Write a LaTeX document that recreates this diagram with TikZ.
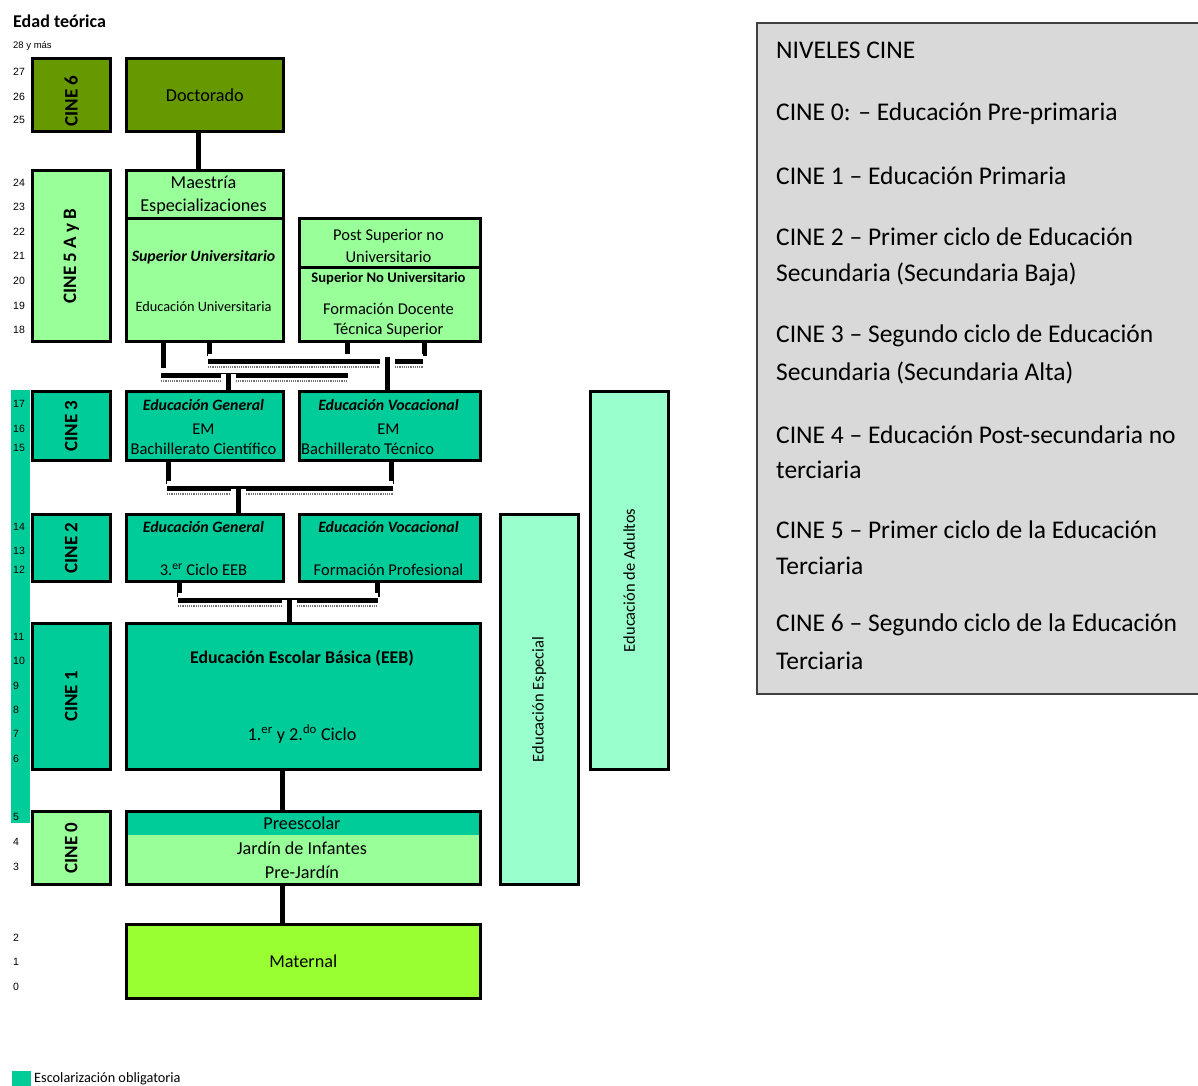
\documentclass[tikz,border=0pt]{standalone}
\usepackage{fontspec}
\setmainfont{Carlito}
\newfontfamily\edadfont{Liberation Sans}
\usetikzlibrary{positioning}
\definecolor{olivo}{HTML}{669900}
\definecolor{verdeclaro}{HTML}{99FF99}
\definecolor{turquesa}{HTML}{00CC99}
\definecolor{menta}{HTML}{99FFCC}
\definecolor{lima}{HTML}{99FF33}
\definecolor{grisclaro}{HTML}{D9D9D9}
\tikzset{
  caja/.style={draw, line width=2.6pt, inner sep=0pt, anchor=north west},
  nivel/.style={rotate=90, font=\bfseries\fontsize{19}{21}\selectfont},
  edad/.style={anchor=west, inner sep=0pt, font=\edadfont\fontsize{10.5}{12}\selectfont},
  txtg/.style={inner sep=0pt, font=\fontsize{18.2}{21}\selectfont},
  txtm/.style={inner sep=0pt, font=\fontsize{16.5}{19}\selectfont},
  txtp/.style={inner sep=0pt, font=\fontsize{14.3}{17}\selectfont},
  txtbi/.style={inner sep=0pt, font=\bfseries\itshape\fontsize{15.8}{18}\selectfont},
  cine/.style={anchor=west, inner sep=0pt, font=\fontsize{25.5}{29}\selectfont},
  conn/.style={line width=5pt, preaction={draw=white, line width=15pt}},
  regla/.style={densely dotted, line width=1.2pt, black!55}
}
\begin{document}
\begin{tikzpicture}[x=1pt,y=-1pt]
    \useasboundingbox (0,0) rectangle (1198,1085);
    %% edad teorica
    \fill[turquesa] (11,390) rectangle (30,823);
    \node[anchor=west, inner sep=0pt, font=\bfseries\fontsize{18}{21}\selectfont] (titulo) at (13,21) {Edad teórica};
    \node[edad, font=\edadfont\fontsize{9.5}{11}\selectfont] (mas) at (13,46) {28 y más};
    \foreach \e/\y in {27/72,26/97,25/120,24/183,23/207,22/232,21/256,20/281,19/306,18/330,
                       17/404,16/429,15/448,14/527,13/551,12/570,11/637,10/661,9/686,8/710,
                       7/734,6/759,5/817,4/842,3/867,2/938,1/962,0/987}
        \node[edad] at (13,\y) {\e};
    %% niveles CINE
    \node[caja, fill=olivo, minimum width=78pt, minimum height=73pt] (c6) at (31,57) {};
    \node[caja, fill=verdeclaro, minimum width=78pt, minimum height=171pt] (c5) at (31,169) {};
    \node[caja, fill=turquesa, minimum width=78pt, minimum height=69pt] (c3) at (31,390) {};
    \node[caja, fill=turquesa, minimum width=78pt, minimum height=67pt] (c2) at (31,513) {};
    \node[caja, fill=turquesa, minimum width=78pt, minimum height=146pt] (c1) at (31,622) {};
    \node[caja, fill=verdeclaro, minimum width=78pt, minimum height=73pt] (c0) at (31,810) {};
    \node[nivel] at ([yshift=-6pt]c6.center) {CINE 6};
    \foreach \n/\t in {c5/CINE 5 A y B,c3/CINE 3,c2/CINE 2,c1/CINE 1,c0/CINE 0}
        \node[nivel] at (\n) {\t};
    %% programas
    \node[caja, fill=olivo, minimum width=157pt, minimum height=73pt, txtg] (doct) at (125,57) {Doctorado};
    \node[caja, fill=verdeclaro, minimum width=157pt, minimum height=48pt] (maes) at (125,169) {};
    \node[txtg] at (203.5,182) {Maestría};
    \node[txtg] at (203.5,207) {Especializaciones};
    \node[caja, fill=verdeclaro, minimum width=157pt, minimum height=123pt] (supu) at (125,217) {};
    \node[txtbi] at (203.5,257) {Superior Universitario};
    \node[txtp] at (203.5,307) {Educación Universitaria};
    \node[caja, fill=verdeclaro, minimum width=181pt, minimum height=49pt] (post) at (298,217) {};
    \node[txtm] at (388.5,236) {Post Superior no};
    \node[txtm] at (388.5,257) {Universitario};
    \node[caja, fill=verdeclaro, minimum width=181pt, minimum height=74pt] (supnu) at (298,266) {};
    \node[inner sep=0pt, font=\bfseries\fontsize{14.6}{17}\selectfont] at (388.5,279) {Superior No Universitario};
    \node[txtm] at (388.5,309) {Formación Docente};
    \node[txtm] at (388.5,330) {Técnica Superior};
    \node[caja, fill=turquesa, minimum width=157pt, minimum height=69pt] (eg3) at (125,390) {};
    \node[txtbi] at (203.5,405) {Educación General};
    \node[txtm] at (203.5,429) {EM};
    \node[txtm] at (203.5,449) {Bachillerato Científico};
    \node[caja, fill=turquesa, minimum width=181pt, minimum height=69pt] (ev3) at (298,390) {};
    \node[txtbi] at (388.5,405) {Educación Vocacional};
    \node[txtm] at (388.5,429) {EM};
    \node[txtm, anchor=west] at (301,449) {Bachillerato Técnico};
    \node[caja, fill=turquesa, minimum width=157pt, minimum height=67pt] (eg2) at (125,513) {};
    \node[txtbi] at (203.5,527) {Educación General};
    \node[txtm] at (203.5,570) {3.\textsuperscript{er} Ciclo EEB};
    \node[caja, fill=turquesa, minimum width=181pt, minimum height=67pt] (ev2) at (298,513) {};
    \node[txtbi] at (388.5,527) {Educación Vocacional};
    \node[txtm] at (388.5,570) {Formación Profesional};
    \node[caja, fill=turquesa, minimum width=354pt, minimum height=146pt] (eeb) at (125,622) {};
    \node[inner sep=0pt, font=\bfseries\fontsize{17.8}{20}\selectfont] at (302,658) {Educación Escolar Básica (EEB)};
    \node[txtg] at (302,734) {1.\textsuperscript{er} y 2.\textsuperscript{do} Ciclo};
    \node[caja, fill=verdeclaro, minimum width=354pt, minimum height=73pt,
          path picture={\fill[turquesa] (path picture bounding box.north west) rectangle ([yshift=-24pt]path picture bounding box.north east);}] (pre) at (125,810) {};
    \node[txtg] at (302,823) {Preescolar};
    \node[txtg] at (302,848) {Jardín de Infantes};
    \node[txtg] at (302,872) {Pre-Jardín};
    \node[caja, fill=lima, minimum width=354pt, minimum height=74pt, txtg] (mat) at (125,923) {Maternal};
    \node[caja, fill=menta, minimum width=78pt, minimum height=370pt] (esp) at (499,513) {};
    \node[txtm, rotate=90] at (esp) {Educación Especial};
    \node[caja, fill=menta, minimum width=78pt, minimum height=378pt] (adul) at (589,390) {};
    \node[txtm, rotate=90] at (adul) {Educación de Adultos};
    %% conexiones
    \draw[conn] ([xshift=-6.5pt]doct.south) -- ([xshift=-6.5pt]maes.north);
    \draw[conn] ([xshift=-41.5pt]supu.south) -- ++(0,27);
    \draw[conn] ([xshift=4.5pt]supu.south) -- ++(0,13);
    \draw[conn] ([xshift=-42.5pt]supnu.south) -- ++(0,13);
    \draw[conn] ([xshift=34.5pt]supnu.south) -- ++(0,13);
    \draw[conn] (208,361) -- (423,361);
    \draw[regla] (208,367) -- (423,367);
    \draw[conn] (161,375) -- (348,375);
    \draw[regla] (161,381) -- (348,381);
    \draw[conn] ([xshift=23.5pt]eg3.north) -- ++(0,-16);
    \draw[conn] ([xshift=-2.5pt]ev3.north) -- ++(0,-33);
    \draw[conn] ([xshift=-36.5pt]eg3.south) -- ++(0,22);
    \draw[conn] ([xshift=1.5pt]ev3.south) -- ++(0,22);
    \draw[conn] (167,488) -- (393,488);
    \draw[regla] (167,494) -- (393,494);
    \draw[conn] ([xshift=33.5pt]eg2.north) -- ++(0,-24);
    \draw[conn] ([xshift=-25.5pt]eg2.south) -- ++(0,14);
    \draw[conn] ([xshift=-12.5pt]ev2.south) -- ++(0,14);
    \draw[conn] (178,600) -- (378,600);
    \draw[regla] (178,606) -- (378,606);
    \draw[conn] ([xshift=-14pt]eeb.north) -- ++(0,-22);
    \draw[conn] ([xshift=-21pt]eeb.south) -- ([xshift=-21pt]pre.north);
    \draw[conn] ([xshift=-21pt]pre.south) -- ([xshift=-21pt]mat.north);
    %% cuadro de niveles
    \node[caja, fill=grisclaro, draw=black!75, line width=2pt, minimum width=442pt, minimum height=671pt] (niveles) at (756,22) {};
    \foreach \y/\t in {50/NIVELES CINE,114/CINE 0: – Educación Pre-primaria,176/CINE 1 – Educación Primaria,
                       237/CINE 2 – Primer ciclo de Educación,274/Secundaria (Secundaria Baja),
                       336/CINE 3 – Segundo ciclo de Educación,373/Secundaria (Secundaria Alta),
                       435/CINE 4 – Educación Post-secundaria no,470/terciaria,
                       530/CINE 5 – Primer ciclo de la Educación,566/Terciaria,
                       625/CINE 6 – Segundo ciclo de la Educación,661/Terciaria}
        \node[cine] at (776,\y) {\t};
    %% leyenda
    \node[caja, draw=none, fill=turquesa, minimum width=19pt, minimum height=16pt] (ley) at (11,1070) {};
    \node[anchor=west, inner sep=0pt, font=\fontsize{14.3}{16}\selectfont] at (34,1079) {Escolarización obligatoria};
\end{tikzpicture}
\end{document}
